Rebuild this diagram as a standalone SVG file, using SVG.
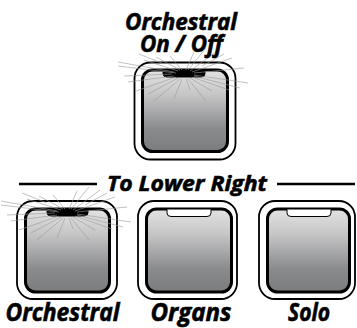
<svg xmlns="http://www.w3.org/2000/svg" xmlns:xlink="http://www.w3.org/1999/xlink" width="357" height="328" viewBox="0 0 357 328">
<defs>
<linearGradient id="pad" x1="0" y1="0" x2="0" y2="1">
<stop offset="0" stop-color="#e3e3e3"/>
<stop offset="0.3" stop-color="#c6c6c7"/>
<stop offset="0.72" stop-color="#8a8b8d"/>
<stop offset="1" stop-color="#7b7c7e"/>
</linearGradient>
<g id="rays" class="ray">
<line x1="-10" y1="-2" x2="-66" y2="-12"/>
<line x1="-8" y1="-1" x2="-66" y2="-8"/>
<line x1="-6" y1="-3" x2="-40" y2="-14"/>
<line x1="-4" y1="-4" x2="-28" y2="-17"/>
<line x1="-2" y1="-4" x2="-14" y2="-18"/>
<line x1="2" y1="-4" x2="10" y2="-22"/>
<line x1="4" y1="-4" x2="22" y2="-26"/>
<line x1="6" y1="-3" x2="33" y2="-23"/>
<line x1="8" y1="-2" x2="48" y2="-16"/>
<line x1="10" y1="-1" x2="60" y2="-6"/>
<line x1="10" y1="1" x2="64" y2="9"/>
<line x1="10" y1="2" x2="56" y2="14"/>
<line x1="8" y1="3" x2="45" y2="16"/>
<line x1="6" y1="4" x2="28" y2="17"/>
<line x1="4" y1="5" x2="22" y2="27"/>
<line x1="2" y1="5" x2="6" y2="16"/>
<line x1="-2" y1="5" x2="-10" y2="25"/>
<line x1="-4" y1="5" x2="-30" y2="27"/>
<line x1="-6" y1="4" x2="-36" y2="20"/>
<line x1="-8" y1="3" x2="-48" y2="17"/>
<line x1="-10" y1="2" x2="-56" y2="8"/>
<line x1="-12" y1="0" x2="-60" y2="2"/>
<line x1="-20" y1="-10" x2="-45" y2="-20"/>
<line x1="18" y1="-8" x2="40" y2="-20"/>
</g>
</defs>
<style>
.outer{fill:#fff;stroke:#000;stroke-width:1.8}
.inner{fill:url(#pad);stroke:#000;stroke-width:3}
.lit{fill:#000;stroke:#000;stroke-width:1}
.unlit{fill:#fff;stroke:#000;stroke-width:1}
.ray line{stroke:#999;stroke-width:0.6}
.lbl{font-family:"Open Sans","Noto Sans","Liberation Sans",sans-serif;font-weight:700;font-style:italic;fill:#000;stroke:#000;stroke-width:0.6;text-anchor:middle}
.rule{stroke:#000;stroke-width:2.5}
</style>

<g id="btn-orchestral-onoff">
<rect class="outer" x="134.5" y="62.5" width="101" height="97" rx="16"/>
<rect class="inner" x="142.5" y="70" width="85" height="81.5" rx="10"/>
<path class="lit" d="M163,70 V73.5 Q163,77 167,77 H201 Q205,77 205,73.5 V70 Z"/>
<use xlink:href="#rays" href="#rays" x="184" y="74"/>
<text class="lbl" font-size="23"><tspan x="181" y="30" textLength="112" lengthAdjust="spacingAndGlyphs">Orchestral</tspan><tspan x="181.5" y="52" textLength="83" lengthAdjust="spacingAndGlyphs">On / Off</tspan></text>
</g>

<g id="connectors">
<line class="rule" x1="19" y1="184" x2="97" y2="184"/>
<line class="rule" x1="277" y1="184" x2="355" y2="184"/>
</g>
<g id="to-lower-right">
<text class="lbl" x="187" y="191" font-size="22" textLength="160" lengthAdjust="spacingAndGlyphs">To Lower Right</text>
</g>

<g id="btn-orchestral">
<rect class="outer" x="17" y="201" width="100" height="98" rx="16"/>
<rect class="inner" x="25.5" y="209" width="84" height="83" rx="10"/>
<path class="lit" d="M47,209 V212.5 Q47,216 51,216 H84 Q88,216 88,212.5 V209 Z"/>
<use xlink:href="#rays" href="#rays" x="67" y="213"/>
<text class="lbl" x="62.5" y="321" font-size="25" textLength="114" lengthAdjust="spacingAndGlyphs">Orchestral</text>
</g>

<g id="btn-organs">
<rect class="outer" x="138" y="201" width="99" height="98" rx="16"/>
<rect class="inner" x="146.5" y="209" width="85" height="83" rx="10"/>
<path class="unlit" d="M167,209 V213 Q167,216.5 171,216.5 H207 Q211,216.5 211,213 V209 Z"/>
<text class="lbl" x="191" y="321" font-size="25" textLength="81" lengthAdjust="spacingAndGlyphs">Organs</text>
</g>

<g id="btn-solo">
<rect class="outer" x="259" y="201" width="96" height="98" rx="16"/>
<rect class="inner" x="267.5" y="209" width="82" height="83" rx="10"/>
<path class="unlit" d="M287,209 V213 Q287,216.5 291,216.5 H327 Q331,216.5 331,213 V209 Z"/>
<text class="lbl" x="309" y="321" font-size="25" textLength="42" lengthAdjust="spacingAndGlyphs">Solo</text>
</g>
</svg>
